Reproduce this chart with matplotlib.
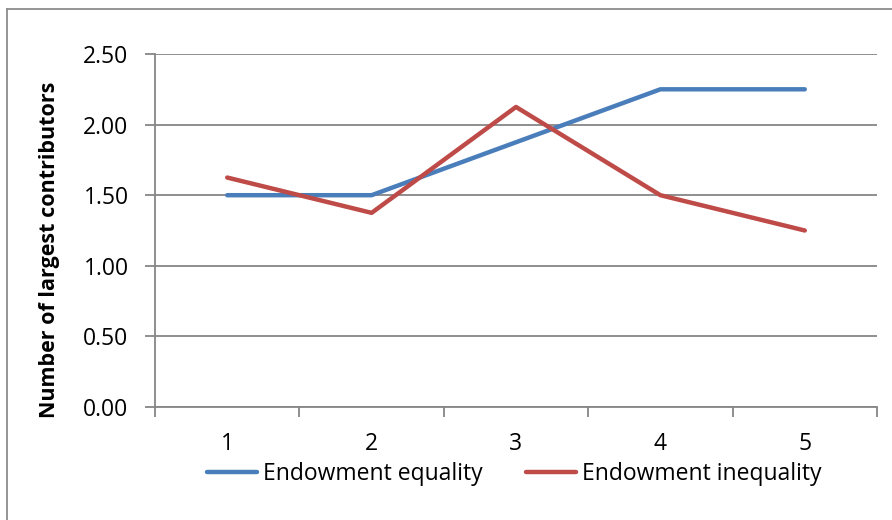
import matplotlib
matplotlib.use("Agg")
import matplotlib.pyplot as plt
from matplotlib.lines import Line2D

categories = [1, 2, 3, 4, 5]
equality = [1.5, 1.5, 1.875, 2.25, 2.25]
inequality = [1.625, 1.375, 2.125, 1.5, 1.25]
yticks = [0.0, 0.5, 1.0, 1.5, 2.0, 2.5]

plt.rcParams['font.family'] = ['Open Sans', 'DejaVu Sans']

W, H = 892, 520
fig = plt.figure(figsize=(W/100, H/100), dpi=100)
# outer chart border (only top and left visible in the crop)
fig.lines.append(Line2D([7/W, 7/W], [0, 1 - 9/H], transform=fig.transFigure, color='#8c8c8c', lw=1.3))
fig.lines.append(Line2D([7/W, 1], [1 - 9/H, 1 - 9/H], transform=fig.transFigure, color='#8c8c8c', lw=1.3))

ax = fig.add_axes([155/W, 113/H, 722/W, 353/H])

gc = '#868686'
ax.plot(categories, equality, color='#4A7EBB', lw=3.2, solid_capstyle='round', label='Endowment equality')
ax.plot(categories, inequality, color='#BE4B48', lw=3.2, solid_capstyle='round', label='Endowment inequality')

ax.set_xlim(0.5, 5.5)
ax.set_ylim(0, 2.5)
ax.set_yticks(yticks)
ax.set_yticklabels([f"{v:.2f}" for v in yticks])
ax.set_xticks(categories)
ax.set_xticklabels([str(c) for c in categories])
ax.set_xticks([0.5, 1.5, 2.5, 3.5, 4.5, 5.5], minor=True)
ax.tick_params(axis='x', which='major', length=0, pad=18, labelsize=16.5)
ax.tick_params(axis='x', which='minor', length=7, color=gc, width=1.3)
ax.tick_params(axis='y', length=7, color=gc, width=1.3, labelsize=16.5, pad=12)
ax.yaxis.grid(True, color=gc, lw=1.3)
ax.set_axisbelow(True)
for s in ['top', 'right']:
    ax.spines[s].set_visible(False)
for s in ['left', 'bottom']:
    ax.spines[s].set_color(gc)
    ax.spines[s].set_linewidth(1.3)
ax.set_ylabel('Number of largest contributors', fontsize=15.5, fontweight='bold')
ax.yaxis.set_label_coords(-(155 - 60) / 722, 0.5 - 19/353)

leg = fig.legend(loc='center', bbox_to_anchor=(514/W, 46/H), ncol=2, frameon=False,
                 fontsize=16.5, handlelength=2.2, handletextpad=0.25, columnspacing=1.9,
                 borderpad=0)

fig.savefig('out.png', dpi=100)
